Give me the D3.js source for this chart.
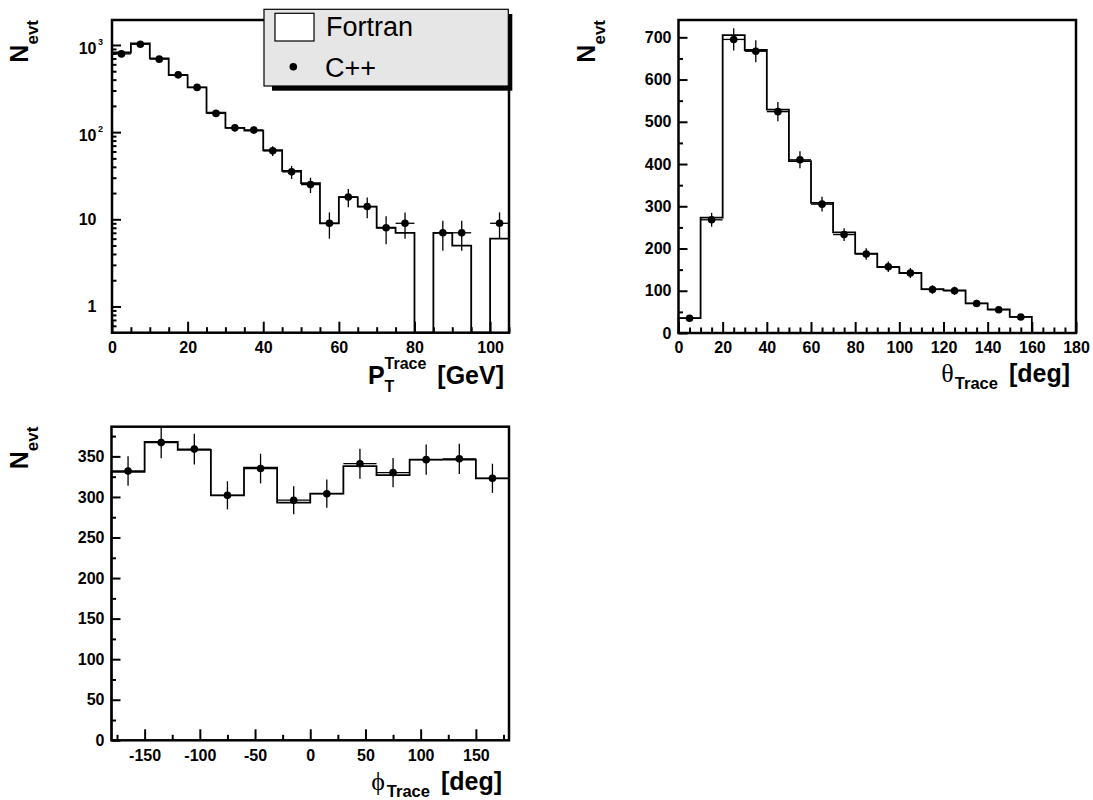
<!DOCTYPE html>
<html><head><meta charset="utf-8">
<script src="https://cdn.jsdelivr.net/npm/d3@7"></script>
<style>
body{margin:0;background:#fff}
svg{display:block}
text{font-family:"Liberation Sans",Arial,Helvetica,sans-serif;fill:#000}
</style>
</head><body>
<svg id="c" width="1093" height="800"></svg>
<script>
// ---------- data ----------
const ptEdges = [0,5,10,15,20,25,30,35,40,45,50,55,60,65,70,75,80,85,90,95,100,105];
const ptFortran = [820,1040,700,451,326,167,112,104,62,36,26,9,18,14,8,7,0,7,5,0,6];
const ptCpp     = [790,1020,688,454,326,164,112,106,61,35,25,9,18,14,8,9,0,7,7,0,9];
const ptXTicks = [0,20,40,60,80,100];
const ptYTicks = [1,10,100,1000];
const ptYTickBase = ["1","10","10","10"];
const ptYTickExp  = ["","","2","3"];

const thetaEdges = [0,10,20,30,40,50,60,70,80,90,100,110,120,130,140,150,160,170,180];
const thetaFortran = [35,273,705,670,529,407,308,238,188,156,142,104,101,70,56,38,0,0];
const thetaCpp     = [35,268,695,667,524,410,305,233,187,157,142,103,100,70,55,38,0,0];
const thetaXTicks = [0,20,40,60,80,100,120,140,160,180];
const thetaYTicks = [0,100,200,300,400,500,600,700];

const phiEdges = [-180,-150,-120,-90,-60,-30,0,30,60,90,120,150,180];
const phiFortran = [331,368,358,302,336,293,304,338,327,346,346,323];
const phiCpp     = [332,367,359,302,335,296,304,341,330,346,347,323];
const phiXTicks = [-150,-100,-50,0,50,100,150];
const phiYTicks = [0,50,100,150,200,250,300,350];

const legendLabels = ["Fortran","C++"];

// ---------- drawing ----------
const svg = d3.select("#c");

function styleAxis(sel){
  sel.select(".domain").remove();
  sel.selectAll(".tick line").attr("stroke","#000").attr("stroke-width",2);
  sel.selectAll(".tick text").style("font-size","16px").style("font-weight","bold")
     .style("font-family",'"Liberation Sans",Arial,sans-serif').attr("fill","#000");
}

function panel(o){
  const g = svg.append("g");
  const x = d3.scaleLinear().domain(o.xDomain).range([o.left,o.right]);
  const y = (o.log ? d3.scaleLog() : d3.scaleLinear()).domain(o.yDomain).range([o.bottom,o.top]);
  const yv = v => y(Math.max(v, o.yDomain[0]));

  // Fortran histogram (step outline)
  const n = o.fortran.length;
  const pts = [[o.edges[0], o.yDomain[0]]];
  o.fortran.forEach((v,i)=>pts.push([o.edges[i], v]));
  pts.push([o.edges[n], o.fortran[n-1]]);
  pts.push([o.edges[n], o.yDomain[0]]);
  const line = d3.line().x(d=>x(d[0])).y(d=>yv(d[1])).curve(d3.curveStepAfter);
  g.append("path").attr("d", line(pts)).attr("fill","none").attr("stroke","#000").attr("stroke-width",1.8);

  // C++ points with errors
  const cpp = o.cpp.map((v,i)=>({v, lo:o.edges[i], hi:o.edges[i+1]})).filter(d=>d.v>0);
  const pg = g.append("g");
  pg.selectAll("line.h").data(cpp).join("line").attr("class","h")
    .attr("x1",d=>x(d.lo)).attr("x2",d=>x(d.hi)).attr("y1",d=>yv(d.v)).attr("y2",d=>yv(d.v))
    .attr("stroke","#000").attr("stroke-width",1.3);
  pg.selectAll("line.v").data(cpp).join("line").attr("class","v")
    .attr("x1",d=>x((d.lo+d.hi)/2)).attr("x2",d=>x((d.lo+d.hi)/2))
    .attr("y1",d=>yv(d.v-Math.sqrt(d.v))).attr("y2",d=>yv(d.v+Math.sqrt(d.v)))
    .attr("stroke","#000").attr("stroke-width",1.3);
  pg.selectAll("circle").data(cpp).join("circle")
    .attr("cx",d=>x((d.lo+d.hi)/2)).attr("cy",d=>yv(d.v)).attr("r",3.8).attr("fill","#000");

  // x axis
  const xa = g.append("g").attr("transform",`translate(0,${o.bottom})`)
    .call(d3.axisBottom(x).tickValues(o.xMajor).tickSize(-11).tickPadding(9).tickFormat(d=>String(d)));
  styleAxis(xa);
  const xm = g.append("g").attr("transform",`translate(0,${o.bottom})`)
    .call(d3.axisBottom(x).tickValues(o.xMinor).tickSize(-5.5).tickFormat(""));
  styleAxis(xm);

  // y axis
  if(o.log){
    const ya = g.append("g").attr("transform",`translate(${o.left},0)`)
      .call(d3.axisLeft(y).tickValues(o.yMajor).tickSize(-9).tickPadding(15.5).tickFormat((d,i)=>o.yBase[i]));
    styleAxis(ya);
    ya.selectAll(".tick text").each(function(d,i){
      if(o.yExp[i]){
        const t = d3.select(this);
        t.attr("dy","0.52em").attr("x",-15.5+6.5);
        t.append("tspan").attr("dx",1.5).attr("dy",-9).style("font-size","9px").text(o.yExp[i]);
      }
    });
  } else {
    const ya = g.append("g").attr("transform",`translate(${o.left},0)`)
      .call(d3.axisLeft(y).tickValues(o.yMajor).tickSize(-9).tickPadding(7).tickFormat(d=>String(d)));
    styleAxis(ya);
  }
  const ym = g.append("g").attr("transform",`translate(${o.left},0)`)
    .call(d3.axisLeft(y).tickValues(o.yMinor).tickSize(-4.5).tickFormat(""));
  styleAxis(ym);

  // frame
  g.append("rect").attr("x",o.left).attr("y",o.top).attr("width",o.right-o.left).attr("height",o.bottom-o.top)
    .attr("fill","none").attr("stroke","#000").attr("stroke-width",2.5);

  // y title
  const yt = g.append("text").attr("transform",`translate(${o.left-84},${o.top}) rotate(-90)`)
    .attr("text-anchor","end").style("font-weight","bold").style("font-size","25px").text("N");
  yt.append("tspan").attr("dy",10).style("font-size","17px").text("evt");

  // x title
  o.xTitle(g.append("text").attr("x",o.titleX).attr("y",o.bottom+o.titleDy)
    .attr("text-anchor","end").style("font-weight","bold").style("font-size","25px"));
  return {x,y};
}

function measure(str, size, weight){
  const t = svg.append("text").style("font-size",size+"px").style("font-weight",weight).text(str);
  const w = t.node().getComputedTextLength(); t.remove(); return w;
}

// minor tick helpers
const range = (a,b,s)=>d3.range(a,b+1e-9,s);
const logMinor = [0.6,0.7,0.8,0.9].concat(...[1,10,100].map(m=>[2,3,4,5,6,7,8,9].map(k=>k*m)));

// Panel 1: PT (log)
panel({
  left:112, right:509, top:20, bottom:332.7,
  xDomain:[0,105], yDomain:[0.5,1934], log:true,
  edges:ptEdges, fortran:ptFortran, cpp:ptCpp,
  xMajor:ptXTicks, xMinor:range(0,105,5).filter(v=>v%20!==0),
  yMajor:ptYTicks, yBase:ptYTickBase, yExp:ptYTickExp, yMinor:logMinor,
  titleX:504, titleDy:51,
  xTitle:t=>{
    const wT = measure("T",16,"bold");
    t.append("tspan").text("P");
    t.append("tspan").attr("dy",8.5).style("font-size","16px").text("T");
    t.append("tspan").attr("dx",-wT).attr("dy",-23).style("font-size","16px").text("Trace");
    t.append("tspan").attr("dx",4).attr("dy",14.5).text(" [GeV]");
  }
});

// Panel 2: theta
panel({
  left:678.5, right:1076, top:20, bottom:333,
  xDomain:[0,180], yDomain:[0,741], log:false,
  edges:thetaEdges, fortran:thetaFortran, cpp:thetaCpp,
  xMajor:thetaXTicks, xMinor:range(0,180,5).filter(v=>v%20!==0),
  yMajor:thetaYTicks, yMinor:range(50,700,100),
  titleX:1070, titleDy:48.5,
  xTitle:t=>{
    t.append("tspan").style("font-family",'"Liberation Serif","DejaVu Serif",serif').style("font-weight","normal").style("font-size","26px").text("θ");
    t.append("tspan").attr("dx",1).attr("dy",7.6).style("font-size","16.5px").text("Trace");
    t.append("tspan").attr("dx",4).attr("dy",-7.6).text(" [deg]");
  }
});

// Panel 3: phi
panel({
  left:111.5, right:509, top:426.7, bottom:740.3,
  xDomain:[-180,180], yDomain:[0,386.6], log:false,
  edges:phiEdges, fortran:phiFortran, cpp:phiCpp,
  xMajor:phiXTicks, xMinor:range(-175,175,25).filter(v=>v%50!==0),
  yMajor:phiYTicks, yMinor:range(25,375,50),
  titleX:502, titleDy:49.4,
  xTitle:t=>{
    t.append("tspan").style("font-family",'"Liberation Serif","DejaVu Serif",serif').style("font-weight","normal").style("font-size","26px").text("ϕ");
    t.append("tspan").attr("dx",2).attr("dy",7.6).style("font-size","16.5px").text("Trace");
    t.append("tspan").attr("dx",4).attr("dy",-7.6).text(" [deg]");
  }
});

// Legend
const lg = svg.append("g");
lg.append("rect").attr("x",272).attr("y",14).attr("width",240.3).attr("height",76.7).attr("fill","#000");
lg.append("rect").attr("x",264).attr("y",9.3).attr("width",244.3).attr("height",76.7)
  .attr("fill","#e6e6e6").attr("stroke","#000").attr("stroke-width",1.2);
lg.append("rect").attr("x",275).attr("y",13.3).attr("width",39).attr("height",27.7)
  .attr("fill","#fff").attr("stroke","#000").attr("stroke-width",1.2);
lg.append("text").attr("x",326).attr("y",35.7).style("font-size","27px").text(legendLabels[0]);
lg.append("circle").attr("cx",293.3).attr("cy",66.7).attr("r",3.8).attr("fill","#000");
lg.append("text").attr("x",325).attr("y",76.7).style("font-size","27px").text(legendLabels[1]);
</script>
</body></html>
